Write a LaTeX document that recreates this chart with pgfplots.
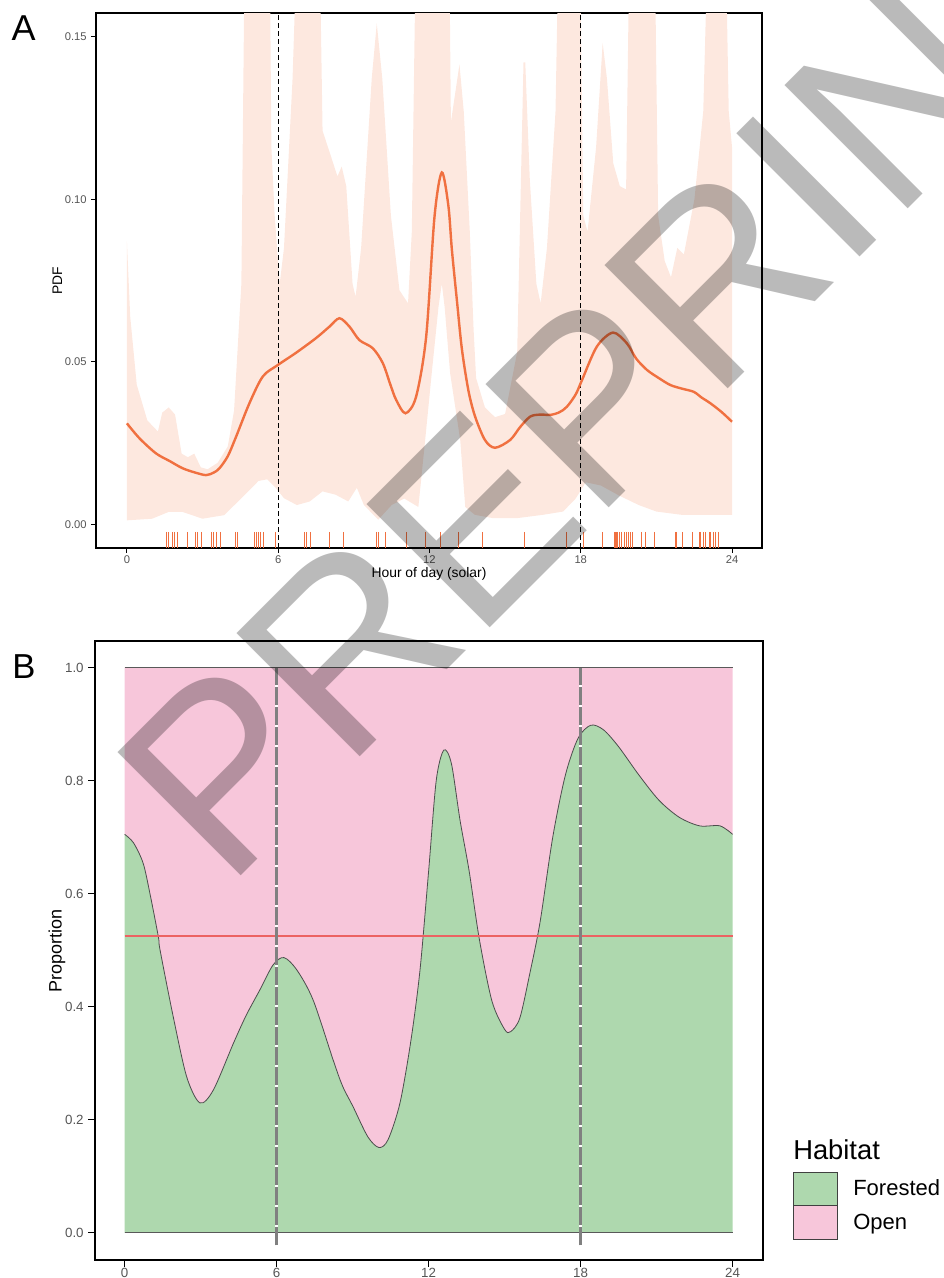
\documentclass[border=0pt]{standalone}
\usepackage{fontspec}
\setmainfont{Liberation Sans}
\usepackage{pgfplots}
\usepackage{pgfplotstable}
\pgfplotsset{compat=1.18}
\usepgfplotslibrary{fillbetween}
\definecolor{pdfline}{RGB}{240,112,64}
\definecolor{bandc}{RGB}{253,232,223}
\definecolor{forest}{RGB}{174,216,174}
\definecolor{openc}{RGB}{247,198,218}
\definecolor{ticklab}{RGB}{85,85,85}
\definecolor{redline}{RGB}{236,98,98}

\pgfplotstableread{
h y
0 0.0311
0.5 0.0265
1.15 0.0219
1.7 0.0195
2.21 0.0173
2.7 0.016
3.14 0.0152
3.45 0.016
3.67 0.0173
4.0 0.021
4.33 0.027
4.86 0.0373
5.39 0.0455
5.98 0.049
6.71 0.0528
7.5 0.0573
8.03 0.0608
8.43 0.0634
8.83 0.0608
9.22 0.0567
9.75 0.0542
10.15 0.0496
10.45 0.043
10.68 0.0383
11.05 0.0342
11.47 0.0393
11.87 0.0578
12.2 0.0946
12.49 0.1082
12.75 0.098
12.89 0.0844
13.1 0.068
13.29 0.0537
13.55 0.041
13.81 0.0332
14.2 0.026
14.6 0.0236
15.2 0.026
15.6 0.03
16.0 0.0332
16.4 0.0338
16.79 0.0337
17.15 0.0345
17.45 0.0362
17.8 0.04
18.05 0.0444
18.64 0.0547
19.28 0.059
19.83 0.0557
20.2 0.051
20.63 0.0475
21.1 0.045
21.55 0.0429
22.0 0.0418
22.48 0.0408
22.8 0.039
23.14 0.0373
23.6 0.0345
24.0 0.0316
}\pdfcurve

\pgfplotstableread{
h y
0 0.087
0.13 0.064
0.39 0.043
0.81 0.032
1.23 0.0286
1.4 0.0344
1.66 0.036
1.91 0.0338
2.17 0.0218
2.42 0.0207
2.67 0.0218
2.93 0.0176
3.2 0.017
3.6 0.019
4.0 0.024
4.25 0.035
4.54 0.074
4.7 0.2
5.64 0.2
5.73 0.116
5.86 0.095
6.06 0.074
6.23 0.085
6.57 0.137
6.83 0.2
7.6 0.2
7.76 0.121
8.1 0.113
8.35 0.107
8.52 0.110
8.7 0.104
8.95 0.074
9.07 0.070
9.29 0.085
9.71 0.137
9.91 0.154
10.13 0.137
10.47 0.095
10.81 0.072
11.15 0.068
11.3 0.09
11.5 0.2
12.76 0.2
12.85 0.1236
13.19 0.1414
13.36 0.127
13.6 0.09
13.75 0.06
13.85 0.045
14.2 0.036
14.6 0.033
15.0 0.034
15.48 0.053
15.73 0.142
15.8 0.142
15.98 0.106
16.24 0.074
16.41 0.068
16.66 0.085
17.0 0.127
17.17 0.2
17.94 0.2
18.1 0.095
18.27 0.090
18.61 0.116
18.87 0.148
19.04 0.137
19.29 0.111
19.55 0.104
19.8 0.103
19.97 0.2
20.9 0.2
21.07 0.095
21.33 0.081
21.58 0.076
21.83 0.085
22.09 0.083
22.51 0.100
22.86 0.127
23.11 0.2
23.7 0.2
23.87 0.127
24.0 0.116
}\bandup

\pgfplotstableread{
h y
0 0.0013
1.0 0.0018
1.66 0.0039
2.2 0.0039
3.0 0.0018
3.86 0.0029
4.54 0.0081
5.22 0.0134
5.56 0.0139
5.9 0.0113
6.23 0.0081
6.74 0.006
7.25 0.0071
7.76 0.0102
8.27 0.0092
8.78 0.0071
9.12 0.0113
9.4 0.006
9.97 0.0015
10.5 0.006
11.0 0.008
11.56 0.0054
11.83 0.026
12.09 0.0465
12.36 0.067
12.49 0.074
12.6 0.067
12.82 0.0465
13.22 0.026
13.42 0.0054
13.8 0.003
14.5 0.002
15.5 0.002
16.5 0.003
17.3 0.004
17.8 0.008
18.2 0.013
18.8 0.012
19.5 0.009
20.3 0.006
21.0 0.004
22.0 0.003
23.0 0.003
24.0 0.003
}\bandlo

\pgfplotstableread{
h y
1.55 -0.0047
1.63 -0.0047
1.81 -0.0047
1.89 -0.0047
2.01 -0.0047
2.41 -0.0047
2.71 -0.0047
2.80 -0.0047
2.94 -0.0047
3.37 -0.0047
3.45 -0.0047
3.56 -0.0047
3.73 -0.0047
4.30 -0.0047
4.39 -0.0047
5.05 -0.0047
5.13 -0.0047
5.22 -0.0047
5.30 -0.0047
5.42 -0.0047
5.90 -0.0047
7.04 -0.0047
7.12 -0.0047
7.30 -0.0047
8.04 -0.0047
8.60 -0.0047
9.89 -0.0047
9.99 -0.0047
10.25 -0.0047
11.07 -0.0047
11.84 -0.0047
12.42 -0.0047
13.15 -0.0047
14.11 -0.0047
15.78 -0.0047
17.44 -0.0047
18.09 -0.0047
18.86 -0.0047
19.33 -0.0047
19.37 -0.0047
19.42 -0.0047
19.47 -0.0047
19.55 -0.0047
19.63 -0.0047
19.73 -0.0047
19.82 -0.0047
19.90 -0.0047
19.99 -0.0047
20.06 -0.0047
20.39 -0.0047
20.56 -0.0047
20.93 -0.0047
21.76 -0.0047
21.81 -0.0047
22.02 -0.0047
22.45 -0.0047
22.69 -0.0047
22.74 -0.0047
22.85 -0.0047
22.93 -0.0047
23.09 -0.0047
23.16 -0.0047
23.25 -0.0047
23.35 -0.0047
23.48 -0.0047
}\rugdata

\pgfplotstableread{
h p
0 0.705
0.35 0.69
0.73 0.654
1.0 0.60
1.33 0.524
1.4 0.50
1.92 0.382
2.45 0.276
2.97 0.23
3.5 0.2526
4.3 0.336
4.8 0.385
5.34 0.43
5.86 0.474
6.29 0.487
6.8 0.465
7.44 0.412
8.23 0.306
8.6 0.26
9.02 0.223
9.6 0.17
10.04 0.151
10.4 0.165
10.87 0.23
11.3 0.34
11.66 0.465
12.0 0.64
12.3 0.80
12.6 0.854
12.9 0.83
13.24 0.73
13.6 0.64
14.0 0.52
14.5 0.41
15.0 0.36
15.24 0.356
15.6 0.38
16.0 0.46
16.4 0.55
16.9 0.70
17.4 0.81
17.9 0.875
18.4 0.898
18.9 0.89
19.5 0.86
20.3 0.81
21.1 0.765
21.9 0.735
22.7 0.72
23.5 0.72
24 0.705
}\propcurve

\begin{document}
\begin{tikzpicture}

\begin{axis}[
  at={(72pt,-411pt)}, anchor=south west, scale only axis,
  width=499.5pt, height=401.25pt,
  xmin=-1.226, xmax=25.19, ymin=-0.0072, ymax=0.1572,
  xtick={0,6,12,18,24}, ytick={0,0.05,0.1,0.15},
  scaled y ticks=false,
  yticklabel style={/pgf/number format/fixed, /pgf/number format/fixed zerofill, /pgf/number format/precision=2},
  xticklabel style={yshift=1.5pt},
  /pgf/number format/assume math mode=true,
  xtick pos=bottom, ytick pos=left,
  tick align=outside, major tick length=3.5pt,
  tick style={black, line width=0.7pt},
  axis line style={black, line width=1pt},
  ticklabel style={font=\fontsize{8.4}{10}\selectfont, text=ticklab},
  xlabel={Hour of day (solar)}, ylabel={PDF},
  label style={font=\fontsize{10.4}{12}\selectfont},
  xlabel style={at={(axis description cs:0.5,0)}, anchor=center, yshift=-19.5pt},
  ylabel style={at={(axis description cs:0,0.5)}, anchor=center, yshift=29pt},
]
\addplot[name path=up, draw=none] table[x=h,y=y]{\bandup};
\addplot[name path=lo, draw=none] table[x=h,y=y]{\bandlo};
\addplot[bandc, draw=none] fill between[of=up and lo];
\addplot[black, line width=0.8pt, dash pattern=on 3.75pt off 2.25pt] coordinates {(6,-0.0072)(6,0.1572)};
\addplot[black, line width=0.8pt, dash pattern=on 3.75pt off 2.25pt] coordinates {(18,-0.0072)(18,0.1572)};
\addplot[pdfline, line width=1.8pt, smooth] table[x=h,y=y]{\pdfcurve};
\addplot[only marks, mark=|, mark size=6pt, pdfline, mark options={line width=0.7pt}] table[x=h,y=y]{\rugdata};
\end{axis}

\begin{axis}[
  at={(71.25pt,-945pt)}, anchor=south west, scale only axis,
  width=501pt, height=464.25pt,
  xmin=-1.17, xmax=25.2, ymin=-0.048, ymax=1.047,
  xtick={0,6,12,18,24}, ytick={0,0.2,0.4,0.6,0.8,1},
  yticklabel style={/pgf/number format/fixed, /pgf/number format/fixed zerofill, /pgf/number format/precision=1},
  xticklabel style={yshift=2.5pt},
  /pgf/number format/assume math mode=true,
  xtick pos=bottom, ytick pos=left,
  tick align=outside, major tick length=5pt,
  tick style={black, line width=0.8pt},
  axis line style={black, line width=1.1pt},
  ticklabel style={font=\fontsize{10}{12}\selectfont, text=ticklab},
  ylabel={Proportion},
  label style={font=\fontsize{13.5}{16}\selectfont},
  ylabel style={at={(axis description cs:0,0.5)}, anchor=center, yshift=28.5pt},
]
\addplot[name path=top, draw=none] coordinates {(0,1)(24,1)};
\addplot[name path=fc, draw=none, smooth] table[x=h,y=p]{\propcurve};
\addplot[name path=base, draw=none] coordinates {(0,0)(24,0)};
\addplot[openc, draw=none] fill between[of=top and fc];
\addplot[forest, draw=none] fill between[of=fc and base];
\addplot[black!70, line width=0.6pt, smooth] table[x=h,y=p]{\propcurve};
\addplot[black!65, line width=0.7pt] coordinates {(0,1)(24,1)};
\addplot[black!65, line width=0.7pt] coordinates {(0,0)(24,0)};
\addplot[redline, line width=1.3pt] coordinates {(0,0.525)(24,0.525)};
\addplot[white, line width=1.7pt] coordinates {(6,-0.022)(6,1)};
\addplot[black!50, line width=1.7pt, dash pattern=on 13.5pt off 1.5pt] coordinates {(6,-0.022)(6,1)};
\addplot[white, line width=1.7pt] coordinates {(18,-0.022)(18,1)};
\addplot[black!50, line width=1.7pt, dash pattern=on 13.5pt off 1.5pt] coordinates {(18,-0.022)(18,1)};
\end{axis}

% panel letters
\node[anchor=base west, inner sep=0] at (8.5pt,-30.5pt) {\fontsize{27}{30}\selectfont A};
\node[anchor=base west, inner sep=0] at (9pt,-508.5pt) {\fontsize{26}{30}\selectfont B};

% legend
\filldraw[fill=forest, draw=black!75, line width=0.7pt] (594.75pt,-879pt) rectangle (627.75pt,-903.75pt);
\filldraw[fill=openc, draw=black!75, line width=0.7pt] (594.75pt,-903.75pt) rectangle (627.75pt,-929.25pt);
\node[anchor=base west, inner sep=0] at (594.75pt,-869.5pt) {\fontsize{20.5}{24}\selectfont Habitat};
\node[anchor=base west, inner sep=0] at (639.75pt,-896.25pt) {\fontsize{16.5}{19}\selectfont Forested};
\node[anchor=base west, inner sep=0] at (639.75pt,-921.75pt) {\fontsize{16.5}{19}\selectfont Open};

% watermark
\node[anchor=base west, inner sep=0, rotate=45, text=black, text opacity=0.27] at (169.5pt,-668.25pt) {\fontsize{190}{190}\selectfont PREPRINT};

\pgfresetboundingbox
\path[use as bounding box] (0,0) rectangle (708pt,-958.5pt);
\end{tikzpicture}
\end{document}
